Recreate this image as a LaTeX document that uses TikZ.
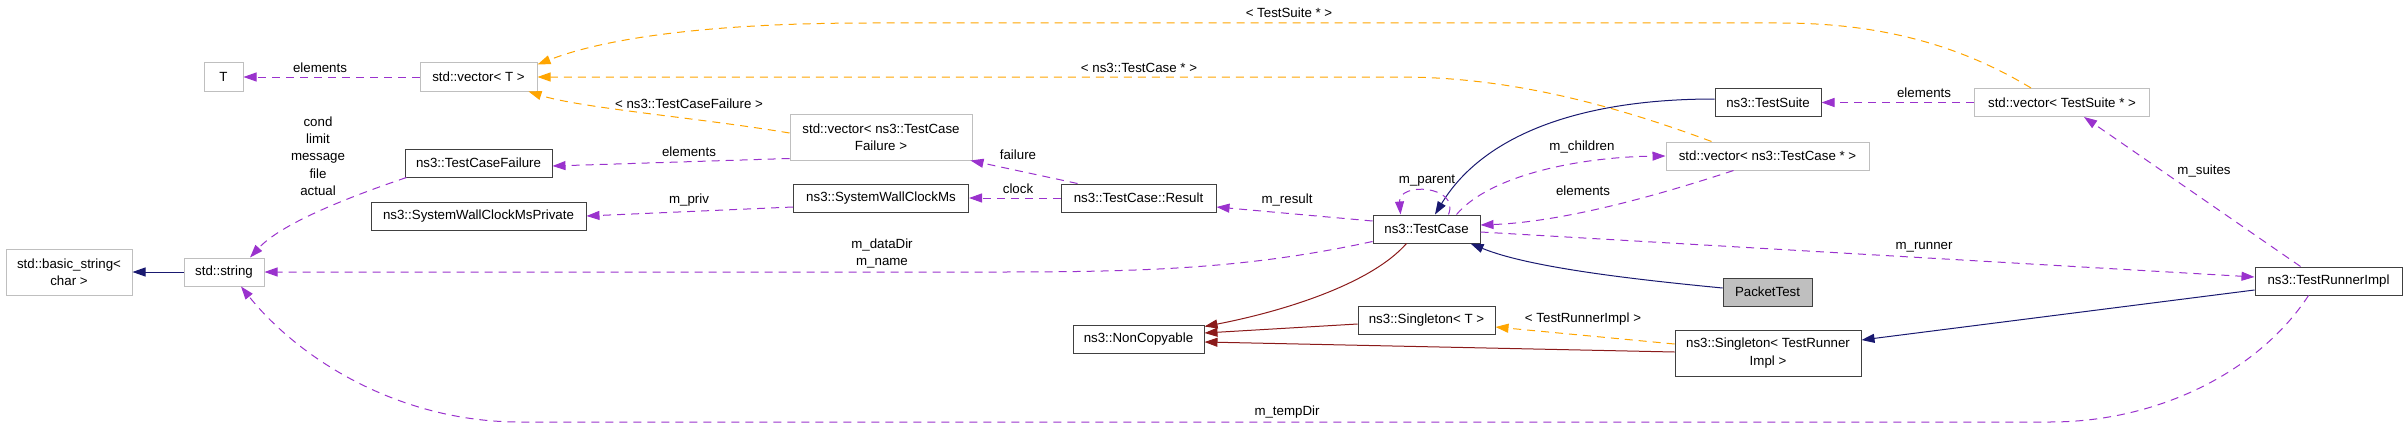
\documentclass[tikz,border=0pt]{standalone}
\usepackage{fontspec}
\setmainfont{Liberation Sans}
\usetikzlibrary{arrows.meta}

\definecolor{edgeblue}{HTML}{191970}
\definecolor{edgepurple}{HTML}{9A32CD}
\definecolor{edgeorange}{HTML}{FFA500}
\definecolor{edgered}{HTML}{8B1A1A}
\definecolor{boxgray}{HTML}{BFBFBF}
\definecolor{boxdark}{HTML}{404040}

\tikzset{
  every node/.style={font=\fontsize{13.3}{17.3}\selectfont, inner sep=0pt, align=center},
  cls/.style={draw=boxdark, fill=white, line width=1pt, minimum height=28pt},
  extcls/.style={draw=boxgray, fill=white, line width=1pt, minimum height=28pt},
  tip/.style={-{Triangle[length=13pt,width=9pt]}},
  inherit/.style={tip, draw=edgeblue, line width=1pt},
  privinherit/.style={tip, draw=edgered, line width=1pt},
  usage/.style={tip, draw=edgepurple, line width=1pt, dash pattern=on 8pt off 6pt},
  tmpl/.style={tip, draw=edgeorange, line width=1pt, dash pattern=on 8pt off 6pt}
}

\begin{document}
\begin{tikzpicture}[x=1pt,y=-1pt]
    \useasboundingbox (0,0) rectangle (2405,428);

    %classes
    \node[extcls, minimum width=39pt] (T) at (223.5,77) {T};
    \node[extcls, minimum width=117pt] (vecT) at (478.5,77) {std::vector< T >};
    \node[cls, minimum width=147pt] (failure) at (478.5,163) {ns3::TestCaseFailure};
    \node[cls, minimum width=215pt] (swcmPriv) at (478.5,216) {ns3::SystemWallClockMsPrivate};
    \node[extcls, minimum width=126pt, minimum height=46pt] (basicStr) at (69,272) {std::basic\_string<\\char >};
    \node[extcls, minimum width=80pt] (str) at (224,272) {std::string};
    \node[extcls, minimum width=182pt, minimum height=46pt] (vecFail) at (881,137) {std::vector< ns3::TestCase\\Failure >};
    \node[cls, minimum width=175pt] (swcm) at (881,198) {ns3::SystemWallClockMs};
    \node[cls, minimum width=155pt] (result) at (1138.5,198) {ns3::TestCase::Result};
    \node[cls, minimum width=131pt] (nonCopy) at (1138.5,339) {ns3::NonCopyable};
    \node[cls, minimum width=107pt] (testCase) at (1426.5,229) {ns3::TestCase};
    \node[cls, minimum width=137pt] (singT) at (1426.5,320) {ns3::Singleton< T >};
    \node[cls, minimum width=106pt] (suite) at (1768,102.5) {ns3::TestSuite};
    \node[extcls, minimum width=203pt] (vecCase) at (1767.5,156) {std::vector< ns3::TestCase * >};
    \node[cls, fill=boxgray, minimum width=89pt] (packet) at (1767.5,292) {PacketTest};
    \node[cls, minimum width=186pt, minimum height=46pt] (singRunner) at (1768,353) {ns3::Singleton< TestRunner\\Impl >};
    \node[extcls, minimum width=175pt] (vecSuite) at (2062,102.5) {std::vector< TestSuite * >};
    \node[cls, minimum width=147pt] (runner) at (2328.5,281) {ns3::TestRunnerImpl};

    %template instances
    \draw[tmpl] ([xshift=-31pt]vecSuite.north) .. controls (1960,45) and (1880,23) .. (1780,23)
        -- (870,23) .. controls (700,23) and (600,40) .. ([yshift=-2pt]vecT.north east);
    \draw[tmpl] ([xshift=-56pt]vecCase.north) .. controls (1600,100) and (1500,77) .. (1400,77) -- (vecT.east);
    \draw[tmpl] ([yshift=4pt]vecFail.west) .. controls (700,118) and (580,108) .. ([xshift=-9pt]vecT.south east);
    \draw[tmpl] ([yshift=9pt]singRunner.west) -- ([yshift=-7pt]singT.east);

    %inheritance
    \draw[inherit] (str.west) -- (basicStr.east);
    \draw[inherit] ([yshift=3.5pt]suite.west) .. controls (1570,99) and (1480,140) .. ([xshift=8.5pt]testCase.north);
    \draw[inherit] ([yshift=4pt]packet.west) .. controls (1640,280) and (1530,268) .. ([xshift=-10pt]testCase.south east);
    \draw[inherit] ([yshift=-9pt]runner.west) -- ([yshift=13pt]singRunner.east);
    \draw[privinherit] ([xshift=-20pt]testCase.south) .. controls (1370,285) and (1280,312) .. ([yshift=-2pt]nonCopy.north east);
    \draw[privinherit] ([yshift=-4pt]singT.west) -- ([yshift=6pt]nonCopy.east);
    \draw[privinherit] ([yshift=1pt]singRunner.west) -- ([yshift=-3pt]nonCopy.east);

    %members
    \draw[usage] (vecT.west) -- (T.east);
    \draw[usage] ([yshift=2pt]vecFail.south west) -- ([yshift=-3pt]failure.east);
    \draw[usage] ([xshift=2pt]failure.south west) .. controls (340,200) and (280,225) .. ([xshift=26pt]str.north);
    \draw[usage] ([yshift=-9pt]swcm.west) -- (swcmPriv.east);
    \draw[usage] (result.west) -- (swcm.east);
    \draw[usage] ([xshift=17pt]result.north west) -- ([xshift=-2pt]vecFail.south east);
    \draw[usage] ([yshift=8pt]testCase.west) -- ([yshift=-9pt]result.east);
    \draw[usage] ([xshift=22pt]testCase.north) .. controls (1460,185) and (1398,182) .. ([xshift=-26pt]testCase.north);
    \draw[usage] ([xshift=-34pt]vecCase.south) .. controls (1650,198) and (1560,222) .. ([yshift=4pt]testCase.east);
    \draw[usage] ([xshift=30pt]testCase.north) .. controls (1490,175) and (1580,157) .. (vecCase.west);
    \draw[usage] ([yshift=2pt]testCase.south west) .. controls (1250,268) and (1150,272) .. (1000,272) -- (str.east);
    \draw[usage] ([yshift=-3pt]testCase.east) -- ([yshift=4pt]runner.west);
    \draw[usage] ([xshift=-28pt]runner.north) -- ([xshift=22pt]vecSuite.south);
    \draw[usage] ([xshift=-20pt]runner.south) .. controls (2260,370) and (2160,422) .. (2050,422)
        -- (520,422) .. controls (400,422) and (300,360) .. ([xshift=17pt]str.south);
    \draw[usage] (vecSuite.west) -- (suite.east);

    %edge labels
    \node (lblElemT) at (320,68) {elements};
    \node (lblSuiteT) at (1289,13) {< TestSuite * >};
    \node (lblCaseT) at (1139,68) {< ns3::TestCase * >};
    \node (lblFailT) at (689,104) {< ns3::TestCaseFailure >};
    \node (lblElemFail) at (689,152) {elements};
    \node (lblFields) at (318,156) {cond\\limit\\message\\file\\actual};
    \node (lblPriv) at (689,200) {m\_priv};
    \node (lblClock) at (1018,189) {clock};
    \node (lblFailure) at (1018,155) {failure};
    \node (lblResult) at (1287,200) {m\_result};
    \node (lblParent) at (1427,181) {m\_parent};
    \node (lblChildren) at (1582,147) {m\_children};
    \node (lblElemCase) at (1583,191) {elements};
    \node (lblDirs) at (882,253.5) {m\_dataDir\\m\_name};
    \node (lblRunnerT) at (1583,319) {< TestRunnerImpl >};
    \node (lblRunner) at (1924,247) {m\_runner};
    \node (lblSuites) at (2204,171) {m\_suites};
    \node (lblTemp) at (1287,412) {m\_tempDir};
    \node (lblElemSuite) at (1924,93) {elements};
\end{tikzpicture}
\end{document}
